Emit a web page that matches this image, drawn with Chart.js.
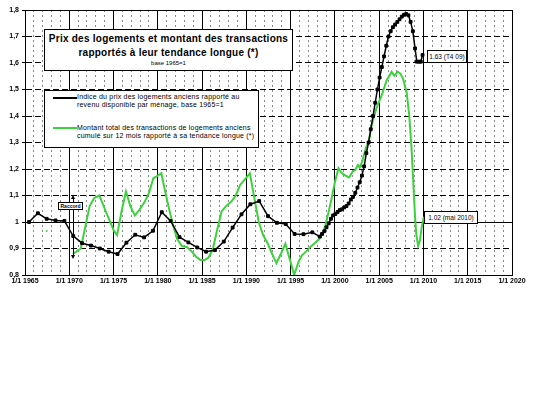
<!DOCTYPE html>
<html lang="fr">
<head>
<meta charset="UTF-8">
<title>Prix des logements et montant des transactions</title>
<script src="https://cdn.jsdelivr.net/npm/chart.js@4.4.1/dist/chart.umd.min.js"></script>
<style>
  body { margin: 0; background: #fff; }
  #cadre { position: relative; width: 535px; height: 394px; font-family: "Liberation Sans", Arial, sans-serif; color: #000; }
  #graphique { position: absolute; left: 0; top: 0; }
  .boite { position: absolute; background: #fff; border: 1px solid #000; box-sizing: border-box; color: #000; }
  #titre { left: 44px; top: 29px; width: 249px; height: 42px; text-align: center; }
  #titre .l1 { font-weight: bold; font-size: 10px; letter-spacing: 0.25px; line-height: 14px; margin-top: 2px; }
  #titre .l3 { font-size: 6px; line-height: 7px; }
  #legende { left: 44px; top: 90px; width: 215px; height: 58px; }
  #legende .trait { position: absolute; left: 8px; width: 24px; height: 2px; }
  #legende .texte { position: absolute; left: 32px; font-size: 7px; line-height: 7.5px; letter-spacing: 0.2px; white-space: nowrap; color: #000; }
  .note { font-size: 6.5px; line-height: 11px; text-align: center; white-space: nowrap; }
  #raccord { left: 58px; top: 202px; width: 25px; height: 8px; font-size: 5px; font-weight: bold; line-height: 6px; text-align: center; }
  .fleche { position: absolute; left: 73px; width: 1px; background: #000; }
  .pointe { position: absolute; width: 0; height: 0; border-left: 2px solid transparent; border-right: 2px solid transparent; }
</style>
</head>
<body>
<div id="cadre">
  <canvas id="graphique" width="535" height="394"></canvas>

  <div class="boite" id="titre">
    <div class="l1">Prix des logements et montant des transactions<br>rapportés à leur tendance longue (*)</div>
    <div class="l3">base 1965=1</div>
  </div>

  <div class="boite" id="legende">
    <div class="trait" style="top:6px; background:#000;"></div>
    <div class="texte" style="top:2px;">Indice du prix des logements anciens rapporté au<br>revenu disponible par ménage, base 1965=1</div>
    <div class="trait" style="top:36px; background:#3cd23c;"></div>
    <div class="texte" style="top:33px;">Montant total des transactions de logements anciens<br>cumulé sur 12 mois rapporté à sa tendance longue (*)</div>
  </div>

  <div class="boite note" style="left:427px; top:50px; width:40px; height:13px;">1.63 (T4 09)</div>
  <div class="boite note" style="left:424px; top:211px; width:54px; height:13px;">1.02 (mai 2010)</div>

  <div class="fleche" style="top:198px; height:58px;"></div>
  <div class="pointe" style="left:71px; top:195px; border-bottom:4px solid #000;"></div>
  <div class="pointe" style="left:71px; top:255px; border-top:4px solid #000;"></div>
  <div class="boite" id="raccord">Raccord</div>
</div>

<script>
// Indice du prix des logements anciens / revenu disponible par ménage (base 1965=1)
const prixAnnees = [
  1965.45, 1966.45, 1967.45, 1968.45, 1969.45, 1970.45, 1971.45, 1972.45, 1973.45, 1974.45,
  1975.45, 1976.45, 1977.45, 1978.45, 1979.45, 1980.45, 1981.45, 1982.45, 1983.45, 1984.45,
  1985.45, 1986.45, 1987.45, 1988.45, 1989.45, 1990.45, 1991.45, 1992.45, 1993.45, 1994.45,
  1995.45, 1996.45, 1997.45,
  1998.3, 1998.55, 1998.8, 1999.05, 1999.3, 1999.55, 1999.8, 2000.05, 2000.3, 2000.55, 2000.8,
  2001.05, 2001.3, 2001.55, 2001.8, 2002.05, 2002.3, 2002.55, 2002.8, 2003.05, 2003.3, 2003.55,
  2003.8, 2004.05, 2004.3, 2004.55, 2004.8, 2005.05, 2005.3, 2005.55, 2005.8, 2006.05, 2006.3,
  2006.55, 2006.8, 2007.05, 2007.3, 2007.55, 2007.8, 2008.05, 2008.3, 2008.55, 2008.8, 2009.05,
  2009.25, 2009.5, 2009.7, 2009.9
];
const prixIndice = [
  1.000, 1.033, 1.012, 1.006, 1.004, 0.947, 0.920, 0.911, 0.900, 0.888,
  0.879, 0.922, 0.952, 0.942, 0.967, 1.037, 1.004, 0.943, 0.923, 0.904,
  0.888, 0.894, 0.926, 0.979, 1.029, 1.067, 1.079, 1.022, 0.997, 0.992,
  0.955, 0.954, 0.961,
  0.945, 0.955, 0.965, 0.980, 0.995, 1.012, 1.025, 1.030, 1.038, 1.045, 1.048,
  1.055, 1.060, 1.070, 1.085, 1.095, 1.110, 1.130, 1.150, 1.175, 1.210, 1.260,
  1.300, 1.350, 1.400, 1.450, 1.500, 1.545, 1.585, 1.625, 1.665, 1.700, 1.720,
  1.735, 1.745, 1.755, 1.765, 1.775, 1.782, 1.785, 1.780, 1.755, 1.720, 1.655,
  1.605, 1.605, 1.605, 1.630
];

// Montant total des transactions cumulé sur 12 mois / tendance longue
const transAnnees = [
  1970.4, 1971.3, 1971.8, 1972.3, 1972.8, 1973.4, 1974.0, 1974.5, 1975.0, 1975.4,
  1975.9, 1976.4, 1976.9, 1977.4, 1977.9, 1978.5, 1979.0, 1979.5, 1980.0, 1980.4,
  1980.8, 1981.2, 1981.7, 1982.2, 1982.7, 1983.3, 1983.8, 1984.3, 1984.8, 1985.3,
  1985.7, 1986.2, 1986.7, 1987.2, 1987.7, 1988.3, 1988.8, 1989.3, 1989.8, 1990.4,
  1990.9, 1991.4, 1991.9, 1992.4, 1992.9, 1993.4, 1993.9, 1994.4, 1994.9, 1995.4,
  1995.9, 1996.3, 1996.8, 1997.2, 1997.7, 1998.2, 1998.6, 1998.9, 1999.3, 1999.6,
  2000.0, 2000.4, 2000.75, 2001.2, 2001.6, 2002.0, 2002.3, 2002.6, 2002.8, 2003.1,
  2003.5, 2003.8, 2004.15, 2004.7, 2005.3, 2005.85, 2006.2, 2006.4, 2006.7, 2007.1,
  2007.4, 2007.7, 2008.1, 2008.4, 2008.65, 2008.85, 2009.05, 2009.2, 2009.4, 2009.6,
  2009.8, 2010.05
];
const transMontant = [
  0.880, 0.900, 0.980, 1.060, 1.090, 1.100, 1.050, 1.010, 0.970, 0.950,
  1.040, 1.115, 1.060, 1.025, 1.045, 1.075, 1.110, 1.165, 1.175, 1.184,
  1.120, 1.060, 0.990, 0.935, 0.910, 0.905, 0.890, 0.870, 0.857, 0.857,
  0.865, 0.895, 0.970, 1.040, 1.060, 1.077, 1.100, 1.140, 1.160, 1.184,
  1.090, 1.000, 0.950, 0.920, 0.880, 0.845, 0.880, 0.918, 0.860, 0.800,
  0.850, 0.875, 0.890, 0.905, 0.920, 0.935, 0.955, 0.985, 1.040, 1.085,
  1.150, 1.203, 1.186, 1.175, 1.168, 1.190, 1.196, 1.215, 1.205, 1.230,
  1.280, 1.300, 1.365, 1.430, 1.480, 1.535, 1.555, 1.567, 1.552, 1.567,
  1.560, 1.540, 1.490, 1.400, 1.280, 1.150, 1.020, 0.950, 0.910, 0.930,
  0.980, 1.020
];

// point vert isolé
const pointIsoleAnnee = [1967.45];
const pointIsoleValeur = [0.966];

// graduations
const anneesGraduees = [1965, 1970, 1975, 1980, 1985, 1990, 1995, 2000, 2005, 2010, 2015, 2020];
const dixiemesPleins = [10, 18];

const vert = '#3cd23c';
const police = { family: '"Liberation Sans", Arial, sans-serif', size: 7, weight: 'bold' };

function enPoints(xs, ys) {
  return xs.map((x, i) => ({ x: x, y: ys[i] }));
}

var ctx = document.getElementById('graphique');
var graphique = new Chart(ctx, {
  type: 'line',
  data: {
    datasets: [
      {
        label: 'Indice du prix des logements anciens rapporté au revenu disponible par ménage, base 1965=1',
        data: enPoints(prixAnnees, prixIndice),
        borderColor: '#000',
        backgroundColor: '#000',
        borderWidth: 1.5,
        pointStyle: 'rect',
        pointRadius: 2,
        pointBorderWidth: 1,
        pointBorderColor: '#000',
        pointBackgroundColor: '#000',
        tension: 0
      },
      {
        label: 'Montant total des transactions de logements anciens cumulé sur 12 mois rapporté à sa tendance longue (*)',
        data: enPoints(transAnnees, transMontant),
        borderColor: vert,
        borderWidth: 2,
        pointRadius: 0,
        tension: 0
      },
      {
        data: enPoints(pointIsoleAnnee, pointIsoleValeur),
        showLine: false,
        pointRadius: 1,
        pointBorderWidth: 0,
        backgroundColor: vert
      }
    ]
  },
  options: {
    responsive: false,
    animation: false,
    layout: { padding: { top: 10, right: 23, bottom: 104, left: 0 } },
    plugins: { legend: { display: false }, tooltip: { enabled: false } },
    scales: {
      x: {
        type: 'linear',
        min: 1965,
        max: 2020,
        afterFit: function (s) { s.height = 15; },
        ticks: {
          stepSize: 1,
          autoSkip: false,
          maxRotation: 0,
          padding: 2,
          color: '#000',
          font: police,
          callback: v => anneesGraduees.includes(v) ? '1/1 ' + v : ''
        },
        grid: {
          drawTicks: false,
          lineWidth: 1,
          color: c => (c.tick && c.tick.value % 5 !== 0) ? '#888' : '#000'
        },
        border: {
          color: '#000',
          width: 1,
          dash: c => (c.tick && c.tick.value % 5 !== 0) ? [2, 3] : []
        }
      },
      y: {
        min: 0.8,
        max: 1.8,
        afterFit: function (s) { s.width = 25; },
        ticks: {
          stepSize: 0.1,
          padding: 3,
          color: '#000',
          font: police,
          callback: function (v) {
            var d = Math.round(v * 10);
            return d === 10 ? '1' : (d / 10).toFixed(1).replace('.', ',');
          }
        },
        grid: { color: '#000', lineWidth: 1, tickLength: 3, tickColor: '#000' },
        border: {
          color: '#000',
          width: 1,
          dash: function (c) {
            if (!c.tick) return [];
            return dixiemesPleins.includes(Math.round(c.tick.value * 10)) ? [] : [6, 3];
          }
        }
      }
    }
  }
});
</script>
</body>
</html>
